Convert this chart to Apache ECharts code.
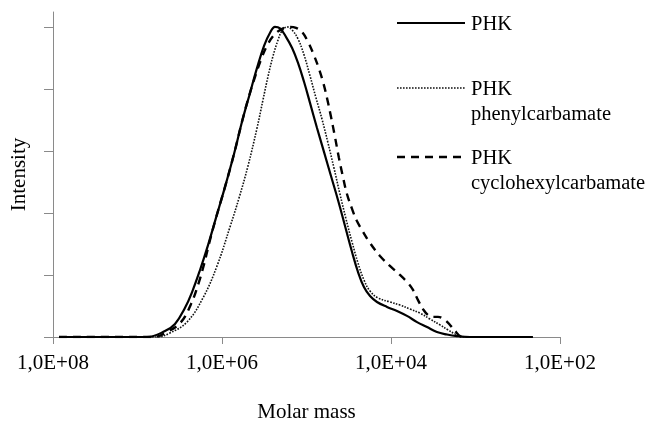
<!DOCTYPE html>
<html>
<head>
<meta charset="utf-8">
<script src="https://cdn.jsdelivr.net/npm/echarts@6/dist/echarts.min.js"></script>
<style>
  html, body { margin: 0; padding: 0; background: #ffffff; }
  #chart { width: 658px; height: 422px; }
</style>
</head>
<body>
<div id="chart"></div>
<script>
// ---- Data (molar mass, relative intensity) ----
const seriesNames = ['PHK', 'PHK\nphenylcarbamate', 'PHK\ncyclohexylcarbamate'];

const phkMass = [8.49e7, 7.72e6, 4.73e6, 3.60e6, 2.74e6, 2.26e6, 1.82e6, 1.46e6, 1.178e6, 9.21e5, 7.21e5, 5.80e5, 4.66e5, 3.85e5, 3.18e5, 2.70e5, 2.36e5, 2.06e5, 1.75e5, 1.48e5, 1.26e5, 1.07e5, 9.09e4, 7.51e4, 6.21e4, 5.13e4, 4.24e4, 3.50e4, 2.89e4, 2.46e4, 2.09e4, 1.77e4, 1.465e4, 1.115e4, 8.49e3, 6.47e3, 4.92e3, 3.75e3, 2.86e3, 2.17e3, 1.66e3, 1.16e3, 2.09e2];
const phkIntensity = [0, 0, 0.019, 0.042, 0.094, 0.145, 0.216, 0.297, 0.384, 0.484, 0.590, 0.694, 0.787, 0.868, 0.939, 0.981, 1.0, 0.995, 0.968, 0.932, 0.884, 0.823, 0.755, 0.674, 0.597, 0.519, 0.442, 0.358, 0.274, 0.210, 0.161, 0.132, 0.113, 0.097, 0.084, 0.068, 0.048, 0.032, 0.016, 0.008, 0.003, 0, 0];

const phenylMass = [8.49e7, 5.88e6, 4.13e6, 2.60e6, 1.68e6, 1.146e6, 8.04e5, 6.29e5, 4.92e5, 3.85e5, 3.27e5, 2.86e5, 2.49e5, 2.17e5, 1.95e5, 1.70e5, 1.48e5, 1.26e5, 1.07e5, 9.09e4, 7.72e4, 6.56e4, 5.57e4, 4.73e4, 4.02e4, 3.41e4, 2.89e4, 2.46e4, 2.09e4, 1.77e4, 1.425e4, 1.03e4, 7.83e3, 5.96e3, 4.54e3, 3.46e3, 2.63e3, 2.12e3, 1.75e3, 1.44e3, 1.07e3];
const phenylIntensity = [0, 0, 0.013, 0.048, 0.126, 0.229, 0.355, 0.448, 0.552, 0.674, 0.765, 0.839, 0.906, 0.958, 0.987, 1.0, 0.990, 0.961, 0.910, 0.842, 0.771, 0.703, 0.626, 0.545, 0.461, 0.381, 0.306, 0.239, 0.184, 0.148, 0.126, 0.113, 0.103, 0.090, 0.077, 0.058, 0.039, 0.023, 0.010, 0, 0];

const cycloMass = [8.49e7, 6.56e6, 4.48e6, 3.06e6, 2.33e6, 1.92e6, 1.63e6, 1.425e6, 1.178e6, 9.21e5, 7.21e5, 5.80e5, 4.79e5, 3.96e5, 3.36e5, 2.86e5, 2.42e5, 2.06e5, 1.80e5, 1.57e5, 1.33e5, 1.13e5, 9.60e4, 8.38e4, 7.31e4, 6.38e4, 5.72e4, 5.13e4, 4.60e4, 4.13e4, 3.70e4, 3.32e4, 2.89e4, 2.53e4, 2.14e4, 1.77e4, 1.35e4, 1.03e4, 7.83e3, 6.29e3, 5.49e3, 4.79e3, 4.18e3, 3.65e3, 3.18e3, 2.78e3, 2.30e3, 1.95e3, 1.70e3, 1.53e3, 1.37e3];
const cycloIntensity = [0, 0, 0.016, 0.048, 0.106, 0.168, 0.235, 0.300, 0.384, 0.484, 0.590, 0.694, 0.777, 0.848, 0.903, 0.945, 0.974, 0.990, 0.998, 1.0, 0.997, 0.984, 0.952, 0.916, 0.874, 0.823, 0.771, 0.710, 0.645, 0.577, 0.516, 0.461, 0.413, 0.374, 0.339, 0.303, 0.261, 0.229, 0.200, 0.174, 0.152, 0.119, 0.090, 0.071, 0.065, 0.065, 0.055, 0.035, 0.016, 0.003, 0];

const yTickValues = [0, 0.2, 0.4, 0.6, 0.8, 1.0];
const xAxisTitle = 'Molar mass';
const yAxisTitle = 'Intensity';

function pairs(xs, ys) { return xs.map((x, i) => [x, ys[i]]); }

const FONT = 'Liberation Serif';
const AXIS_COLOR = '#8a8a8a';

const chart = echarts.init(document.getElementById('chart'), null, { renderer: 'canvas' });

const lineStyles = [
  { color: '#000000', width: 2.2, type: 'solid' },
  { color: '#111111', width: 1.6, type: [1.6, 1.4] },
  { color: '#000000', width: 2.4, type: [8, 6] }
];

const seriesData = [pairs(phkMass, phkIntensity), pairs(phenylMass, phenylIntensity), pairs(cycloMass, cycloIntensity)];

// legend drawn as graphic elements (line sample + label)
const legendRowsY = [23, 88, 157];
const graphics = [];
legendRowsY.forEach((y, i) => {
  graphics.push({
    type: 'line',
    shape: { x1: 397, y1: y, x2: 465, y2: y },
    style: { stroke: lineStyles[i].color, lineWidth: lineStyles[i].width, lineDash: lineStyles[i].type === 'solid' ? null : lineStyles[i].type }
  });
  graphics.push({
    type: 'text',
    x: 471, y: y - 11,
    style: { text: seriesNames[i], font: '20.5px "' + FONT + '"', fill: '#000', lineHeight: 25, textVerticalAlign: 'top' }
  });
});

chart.setOption({
  animation: false,
  backgroundColor: '#ffffff',
  grid: { left: 53, right: 98, top: 12, bottom: 85, containLabel: false, outerBoundsMode: 'none' },
  xAxis: {
    type: 'log',
    logBase: 100,
    min: 1e2,
    max: 1e8,
    inverse: true,
    name: xAxisTitle,
    nameLocation: 'middle',
    nameGap: 65,
    nameTextStyle: { fontFamily: FONT, fontSize: 21, color: '#000' },
    axisLine: { show: true, lineStyle: { color: AXIS_COLOR, width: 1 } },
    axisTick: { show: true, length: 7, lineStyle: { color: AXIS_COLOR } },
    minorTick: { show: false },
    splitLine: { show: false },
    axisLabel: {
      margin: 16,
      fontFamily: FONT, fontSize: 21, color: '#000',
      formatter: function (v) {
        const e = Math.round(Math.log10(v));
        return '1,0E+' + (e < 10 ? '0' + e : e);
      }
    }
  },
  yAxis: {
    type: 'value',
    min: 0,
    max: 1.048,
    name: yAxisTitle,
    nameLocation: 'middle',
    nameGap: 23,
    nameRotate: 90,
    nameTextStyle: { fontFamily: FONT, fontSize: 21, color: '#000' },
    axisLine: { show: true, lineStyle: { color: AXIS_COLOR, width: 1 } },
    axisTick: { show: true, length: 9, customValues: yTickValues, lineStyle: { color: AXIS_COLOR } },
    axisLabel: { show: false },
    splitLine: { show: false }
  },
  graphic: graphics,
  series: seriesData.map((d, i) => ({
    type: 'line',
    name: seriesNames[i],
    data: d,
    showSymbol: false,
    smooth: 0.4,
    lineStyle: lineStyles[i],
    z: 3 - i
  }))
});
</script>
</body>
</html>
